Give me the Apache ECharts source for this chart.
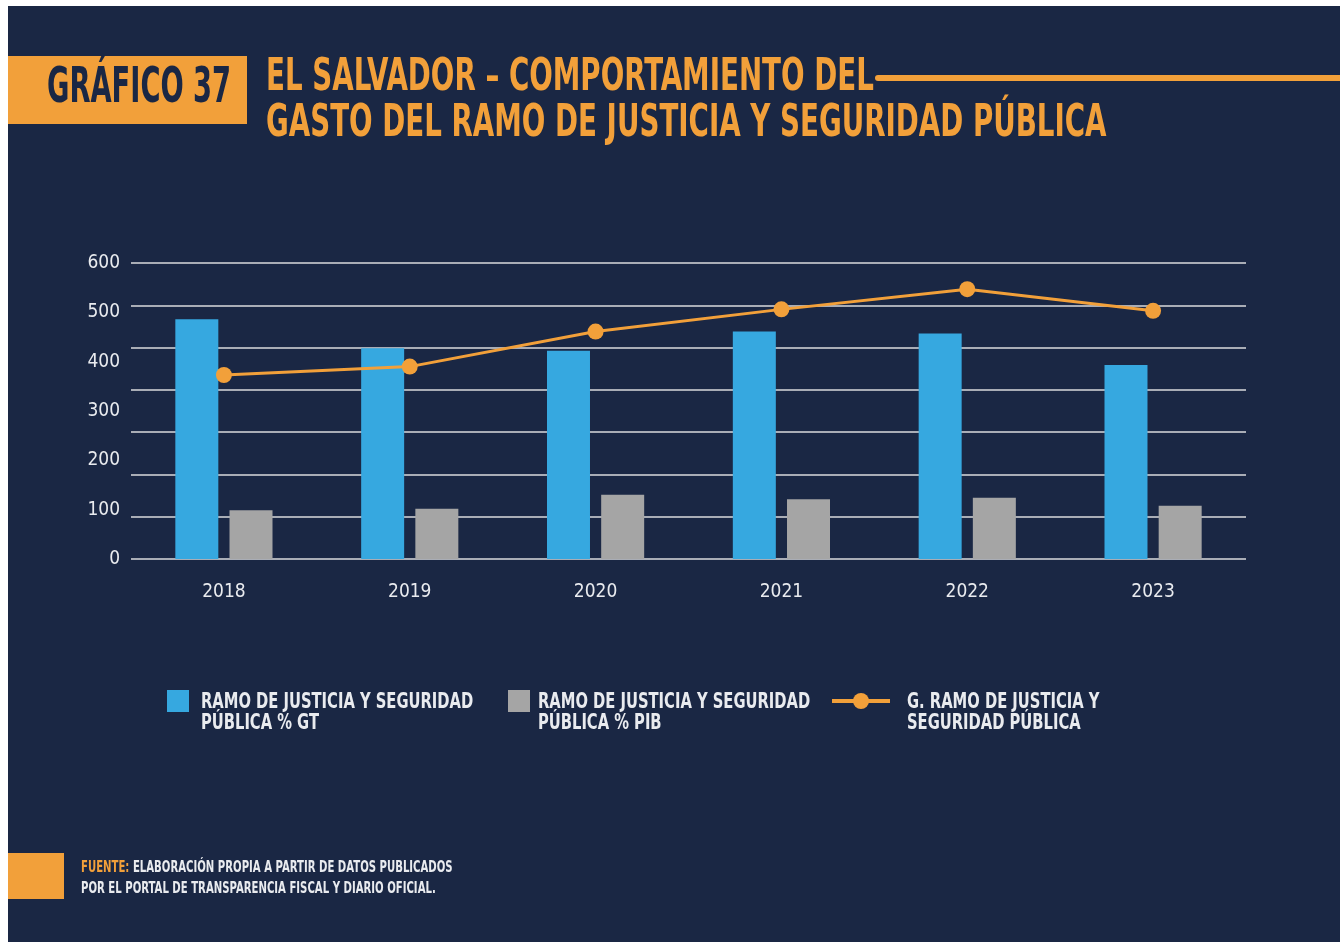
<!DOCTYPE html>
<html>
<head>
<meta charset="utf-8">
<script src="https://cdn.jsdelivr.net/npm/echarts@6/dist/echarts.min.js"></script>
<style>
  html, body { margin: 0; padding: 0; background: #ffffff; }
  #chart { width: 1340px; height: 942px; }
</style>
</head>
<body>
<div id="chart"></div>
<script>
// Years on the category axis
const years = ['2018', '2019', '2020', '2021', '2022', '2023'];
// Ramo de Justicia y Seguridad Pública, % del gasto total (scaled as drawn)
const pctGT = [486, 427, 422, 461, 457, 393];
// Ramo de Justicia y Seguridad Pública, % del PIB (scaled as drawn)
const pctPIB = [99, 102, 130, 121, 124, 108];
// Gasto del Ramo de Justicia y Seguridad Pública
const gasto = [373, 390, 461, 506, 547, 503];
// Value-axis range and step for the labelled scale
const yMin = 0, yMax = 600, yStep = 100;
// Range of the horizontal rule lines
const ruleMax = 700;

const seriesNames = ['% GT', '% PIB', 'G. RAMO'];
const legendLabels = [
  ['RAMO DE JUSTICIA Y SEGURIDAD', 'PÚBLICA % GT'],
  ['RAMO DE JUSTICIA Y SEGURIDAD', 'PÚBLICA % PIB'],
  ['G. RAMO DE JUSTICIA Y', 'SEGURIDAD PÚBLICA']
];

const NAVY = '#1a2744';
const ORANGE = '#f2a03a';
const BLUE = '#36a8e0';
const GREY = '#a5a5a5';
const RULE = '#a9adb6';
const TEXT = '#e9ebef';
const COND = "'DejaVu Sans Condensed','Liberation Sans Narrow',sans-serif";

const chart = echarts.init(document.getElementById('chart'), null, { renderer: 'canvas' });

// Narrowed text block (the condensed display face is emulated by a horizontal squeeze)
function squeezed(text, x, y, size, sx, fill, extra) {
  return {
    type: 'text', x: x, y: y, scaleX: sx,
    style: Object.assign({
      text: text, fill: fill, font: 'bold ' + size + 'px ' + COND,
      textAlign: 'left', textVerticalAlign: 'middle'
    }, extra || {})
  };
}

function legendAt(name, left, w, h, icon) {
  return {
    data: [icon ? { name: name, icon: icon } : name],
    left: left,
    top: 701 - h / 2,
    padding: 0,
    itemWidth: w,
    itemHeight: h,
    selectedMode: false,
    formatter: () => '',
    textStyle: { color: TEXT, fontSize: 1 }
  };
}

const legendText = [];
[[201, 0], [538, 1], [907, 2]].forEach(([x, i]) => {
  legendText.push(squeezed(legendLabels[i][0], x, 703, 21, 0.78, TEXT));
  legendText.push(squeezed(legendLabels[i][1], x, 724, 21, 0.78, TEXT));
});

chart.setOption({
  backgroundColor: '#ffffff',
  animation: false,
  graphic: [
    // page panel
    { type: 'rect', shape: { x: 8, y: 6, width: 1332, height: 936 }, style: { fill: NAVY }, z: -10 },
    // heading tag
    { type: 'rect', shape: { x: 8, y: 56, width: 239, height: 68 }, style: { fill: ORANGE } },
    squeezed('GRÁFICO 37', 47, 89, 50, 0.607, NAVY),
    squeezed('EL SALVADOR – COMPORTAMIENTO DEL', 266, 79, 44, 0.70, ORANGE),
    squeezed('GASTO DEL RAMO DE JUSTICIA Y SEGURIDAD PÚBLICA', 266, 125, 44, 0.70, ORANGE),
    { type: 'line', shape: { x1: 878, y1: 78, x2: 1345, y2: 78 },
      style: { stroke: ORANGE, lineWidth: 6, lineCap: 'round' } },
    // source note
    { type: 'rect', shape: { x: 8, y: 853, width: 56, height: 46 }, style: { fill: ORANGE } },
    squeezed('{o|FUENTE:} ELABORACIÓN PROPIA A PARTIR DE DATOS PUBLICADOS', 81, 868, 15, 0.75, TEXT,
      { rich: { o: { fill: ORANGE, font: 'bold 15px ' + COND } } }),
    squeezed('POR EL PORTAL DE TRANSPARENCIA FISCAL Y DIARIO OFICIAL.', 81, 889, 15, 0.75, TEXT)
  ].concat(legendText),
  legend: [
    legendAt(seriesNames[0], 167, 22, 22, 'rect'),
    legendAt(seriesNames[1], 508, 22, 22, 'rect'),
    Object.assign(legendAt(seriesNames[2], 830, 58, 20), { lineStyle: { width: 4 } })
  ],
  grid: { left: 131, right: 94, top: 263, bottom: 383, containLabel: false },
  xAxis: {
    type: 'category',
    data: years,
    axisLine: { show: false },
    axisTick: { show: false },
    axisLabel: { color: TEXT, fontFamily: COND, fontSize: 19, margin: 24 }
  },
  yAxis: [
    {
      type: 'value', min: yMin, max: yMax, interval: yStep,
      axisLine: { show: false }, axisTick: { show: false },
      splitLine: { show: false },
      axisLabel: { color: TEXT, fontFamily: COND, fontSize: 19, margin: 11 }
    },
    {
      type: 'value', position: 'left', min: yMin, max: ruleMax, interval: yStep,
      axisLine: { show: false }, axisTick: { show: false },
      axisLabel: { show: false },
      splitLine: { show: true, lineStyle: { color: RULE, width: 2 } }
    }
  ],
  series: [
    {
      name: seriesNames[0], type: 'bar', data: pctGT, yAxisIndex: 0,
      barWidth: 43, barGap: '26%',
      itemStyle: { color: BLUE }, z: 2
    },
    {
      name: seriesNames[1], type: 'bar', data: pctPIB, yAxisIndex: 0,
      barWidth: 43, barGap: '26%',
      itemStyle: { color: GREY }, z: 2
    },
    {
      name: seriesNames[2], type: 'line', data: gasto, yAxisIndex: 0,
      symbol: 'circle', symbolSize: 16,
      lineStyle: { color: ORANGE, width: 3 },
      itemStyle: { color: ORANGE },
      z: 5
    }
  ]
});
</script>
</body>
</html>
